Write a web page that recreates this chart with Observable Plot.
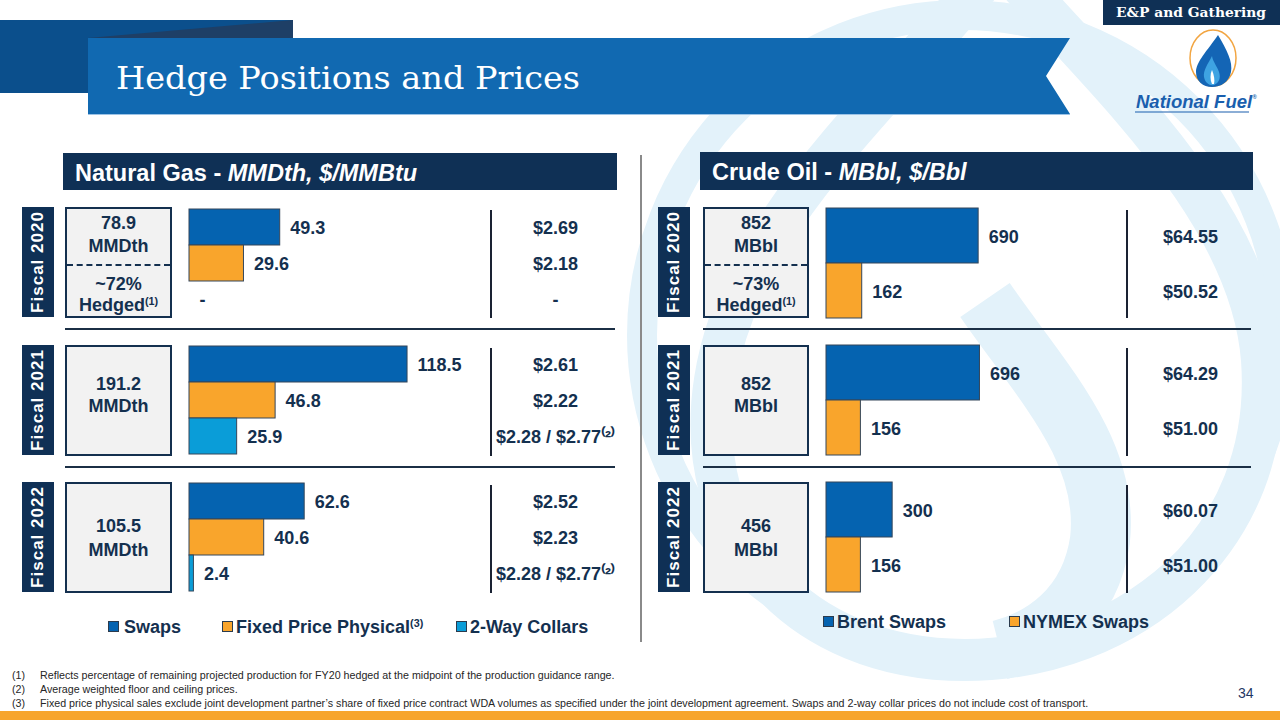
<!DOCTYPE html>
<html><head><meta charset="utf-8">
<script src="https://cdn.jsdelivr.net/npm/d3@7"></script>
<script src="https://cdn.jsdelivr.net/npm/@observablehq/plot@0.6"></script>
<style>
html,body{margin:0;padding:0;background:#fff;}
#slide{position:relative;width:1280px;height:720px;overflow:hidden;font-family:"Liberation Sans",Arial,sans-serif;color:#14304f;}
#slide div{position:absolute;}
.hdr{background:#0f3055;color:#fff;font-weight:bold;font-size:23.5px;box-sizing:border-box;padding-left:12px;white-space:nowrap;}
.yr{background:#0f3055;}
.yr span{position:absolute;left:50%;top:50%;transform:translate(-50%,-50%) rotate(-90deg);color:#fff;font-weight:bold;font-size:17px;letter-spacing:1px;white-space:nowrap;}
.box{background:#f2f2f2;border:2px solid #14304f;box-sizing:border-box;}
.bt{left:0;width:100%;text-align:center;font-weight:bold;font-size:18px;line-height:20px;color:#14304f;white-space:nowrap;}
sup{font-size:60%;vertical-align:0;position:relative;top:-0.6em;}
.vline{width:2px;background:#1a2233;}
.hline{height:2px;background:#1b2f45;}
.leg{font-weight:bold;font-size:18px;color:#14304f;white-space:nowrap;line-height:20px;}
.sw{width:11px;height:11px;border:1px solid #2b3b4d;box-sizing:border-box;}
.fn{font-size:10.7px;color:#262626;white-space:nowrap;line-height:12px;}
</style></head>
<body><div id="slide"></div>
<script>
// ---------------- DATA ----------------
const gasYears = ["Fiscal 2020", "Fiscal 2021", "Fiscal 2022"];
const gasCategories = ["Swaps", "Fixed Price Physical", "2-Way Collars"];
const gasSwaps = [49.3, 118.5, 62.6];
const gasFixed = [29.6, 46.8, 40.6];
const gasCollars = [null, 25.9, 2.4];
const gasSwapPrices = ["$2.69", "$2.61", "$2.52"];
const gasFixedPrices = ["$2.18", "$2.22", "$2.23"];
const gasCollarPrices = ["-", "$2.28 / $2.77\u207D\u00B2\u207E", "$2.28 / $2.77\u207D\u00B2\u207E"];
const gasTotals = ["78.9", "191.2", "105.5"];
const gasHedged = "~72%";
const gasColors = ["#0563b0", "#f9a52c", "#0a9dd8"];

const oilYears = ["Fiscal 2020", "Fiscal 2021", "Fiscal 2022"];
const oilCategories = ["Brent Swaps", "NYMEX Swaps"];
const oilBrent = [690, 696, 300];
const oilNymex = [162, 156, 156];
const oilBrentPrices = ["$64.55", "$64.29", "$60.07"];
const oilNymexPrices = ["$50.52", "$51.00", "$51.00"];
const oilTotals = ["852", "852", "456"];
const oilHedged = "~73%";
const oilColors = ["#0563b0", "#f9a52c"];

const footnotes = [
  "Reflects percentage of remaining projected production for FY20 hedged at the midpoint of the production guidance range.",
  "Average weighted floor and ceiling prices.",
  "Fixed price physical sales exclude joint development partner\u2019s share of fixed price contract WDA volumes as specified under the joint development agreement. Swaps and 2-way collar prices do not include cost of transport."
];

// ---------------- LAYOUT ----------------
const slide = document.getElementById("slide");
function div(cls, css, html) {
  const e = document.createElement("div");
  if (cls) e.className = cls;
  e.style.cssText = css;
  if (html != null) e.innerHTML = html;
  slide.appendChild(e);
  return e;
}

const NS = "http://www.w3.org/2000/svg";
const bg = document.createElementNS(NS, "svg");
bg.setAttribute("width", 1280); bg.setAttribute("height", 720);
bg.style.cssText = "position:absolute;left:0;top:0;";
bg.innerHTML = `
  <g fill="none" stroke="#e3f2fa">
    <circle cx="962" cy="335" r="320" stroke-width="30"/>
    <path d="M1000 -40 C1080 60 1250 200 1262 360 C1275 540 1130 660 965 660 C800 660 690 540 715 380 C740 220 880 110 1000 -40 Z" stroke-width="42"/>
    <path d="M985 300 C1040 380 1110 450 1100 540 C1090 610 1040 640 1000 650" stroke-width="60"/>
  </g>
  <polygon points="0,20 293,20 293,93 0,93" fill="#0b4f8c"/>
  <polygon points="88,38 293,20 293,38" fill="#1e3f66"/>
  <polygon points="88,38 1070,38 1046,76 1070,114 88,114" fill="#1169b1"/>
  <line x1="88" y1="114.5" x2="1070" y2="114.5" stroke="#9cc3e6" stroke-width="1"/>
  <text x="116" y="89" fill="#fff" font-family="DejaVu Serif" font-size="32" textLength="464" lengthAdjust="spacingAndGlyphs">Hedge Positions and Prices</text>
  <rect x="1103" y="0" width="177" height="25" fill="#0f3055"/>
  <text x="1191" y="17" fill="#fff" font-family="DejaVu Serif" font-weight="bold" font-size="13" text-anchor="middle" textLength="150" lengthAdjust="spacingAndGlyphs">E&amp;P and Gathering</text>
  <ellipse cx="1213" cy="58" rx="23" ry="28" fill="#fff" stroke="#f2a541" stroke-width="1.5"/>
  <path d="M1218 35 C1227 50 1233 62 1231 72 C1229 82 1221 87 1212 87 C1203 87 1196 81 1196 72 C1196 62 1207 51 1218 35 Z" fill="#1465b5"/>
  <path d="M1212 56 C1208 64 1203 70 1204 77 C1205 83 1210 86 1214 85 C1219 83 1221 78 1219 72 C1217 66 1213 62 1212 56 Z" fill="#3ea3e2"/>
  <path d="M1212 70 C1210 74 1210 80 1212 84 L1214 84 C1215 80 1214 75 1212 70 Z" fill="#fff"/>
  <text x="1136" y="108" fill="#1a5fae" font-family="Liberation Sans" font-style="italic" font-weight="bold" font-size="18.5">National Fuel<tspan font-size="6" dy="-9">®</tspan></text>
  <line x1="1135" y1="112" x2="1249" y2="112" stroke="#1a5fae" stroke-width="1.2"/>
  <line x1="641" y1="155" x2="641" y2="642" stroke="#8a8a8a" stroke-width="2"/>
  <rect x="0" y="711" width="1280" height="9" fill="#f7a52d"/>
`;
slide.appendChild(bg);

div("hdr", "left:63px;top:153px;width:554px;height:37px;line-height:40px;", "Natural Gas - <i>MMDth, $/MMBtu</i>");
div("hdr", "left:700px;top:152px;width:553px;height:38px;line-height:41px;", "Crude Oil - <i>MBbl, $/Bbl</i>");

const facetTop = 207, facetStep = 137.5, facetBand = 110;
function sidePanel(years, totals, unit, hedged, yrLeft, boxLeft, boxWidth, divX, lineL, lineR) {
  years.forEach((yr, i) => {
    const top = facetTop + i * facetStep;
    div("yr", `left:${yrLeft}px;top:${top}px;width:32px;height:${facetBand}px;`, `<span>${yr}</span>`);
    const b = div("box", `left:${boxLeft}px;top:${top}px;width:${boxWidth}px;height:${facetBand + 1}px;`);
    const add = (y, html) => { const t = document.createElement("div"); t.className = "bt"; t.style.top = (y - 10) + "px"; t.innerHTML = html; b.appendChild(t); };
    if (i === 0) {
      add(14, totals[i]); add(37, unit);
      const d = document.createElement("div");
      d.style.cssText = `left:0;top:55px;width:100%;border-top:2px dashed #14304f;`;
      b.appendChild(d);
      add(75, hedged); add(96, "Hedged<sup>(1)</sup>");
    } else if (i === 1) {
      add(37, totals[i]); add(59, unit);
    } else {
      add(42, totals[i]); add(66, unit);
    }
    div("vline", `left:${divX}px;top:${top + 3}px;height:${facetBand - 2}px;`);
    if (i < 2) div("hline", `left:${lineL}px;top:${top + facetBand + 11}px;width:${lineR - lineL}px;`);
  });
}
sidePanel(gasYears, gasTotals, "MMDth", gasHedged, 22, 65, 107, 490, 65, 615);
sidePanel(oilYears, oilTotals, "MBbl", oilHedged, 658, 703, 106, 1126, 703, 1251);

// ---------------- CHARTS ----------------
function panelChart({years, categories, colors, series, prices, pxPerUnit, left, width, priceDx, fmt}) {
  const rows = [];
  years.forEach((yr, i) => categories.forEach((c, j) =>
    rows.push({year: yr, category: c, value: series[j][i], price: prices[j][i]})));
  const height = facetStep * 2 + facetBand;
  const chart = Plot.plot({
    width, height,
    marginTop: 0, marginBottom: 0, marginLeft: 0, marginRight: 0,
    x: {domain: [0, width / pxPerUnit], axis: null},
    y: {domain: categories, padding: 0, axis: null},
    fy: {domain: years, paddingInner: 1 - facetBand / facetStep, paddingOuter: 0, axis: null, label: null},
    color: {domain: categories, range: colors},
    style: {fontFamily: "Liberation Sans, Arial, sans-serif", fontSize: "18px", overflow: "visible", background: "transparent"},
    marks: [
      Plot.barX(rows.filter(d => d.value != null), {x: "value", y: "category", fy: "year", fill: "category", stroke: "#34465a", strokeWidth: 1}),
      Plot.text(rows, {x: d => d.value ?? 0, y: "category", fy: "year",
        text: d => d.value == null ? "-" : fmt(d.value),
        textAnchor: "start", dx: 10, dy: 1, fontWeight: "bold", fontSize: 18, fill: "#14304f"}),
      Plot.text(rows, {frameAnchor: "right", y: "category", fy: "year", text: "price",
        textAnchor: "middle", dx: priceDx, dy: 1, fontWeight: "bold", fontSize: 18, fill: "#14304f"})
    ]
  });
  chart.style.position = "absolute";
  chart.style.left = left + "px";
  chart.style.top = facetTop + "px";
  slide.appendChild(chart);
}

panelChart({years: gasYears, categories: gasCategories, colors: gasColors,
  series: [gasSwaps, gasFixed, gasCollars],
  prices: [gasSwapPrices, gasFixedPrices, gasCollarPrices],
  pxPerUnit: 1.84, left: 189, width: 438, priceDx: -72, fmt: d3.format(".1f")});

panelChart({years: oilYears, categories: oilCategories, colors: oilColors,
  series: [oilBrent, oilNymex],
  prices: [oilBrentPrices, oilNymexPrices],
  pxPerUnit: 0.2205, left: 826, width: 427, priceDx: -63, fmt: d3.format("d")});

// ---------------- LEGENDS ----------------
const gasLegendLabels = ["Swaps", "Fixed Price Physical<sup>(3)</sup>", "2-Way Collars"];
const gasLegendX = [108, 222, 456];
gasLegendLabels.forEach((l, i) => {
  div("sw", `left:${gasLegendX[i]}px;top:621px;background:${gasColors[i]};`);
  div("leg", `left:${gasLegendX[i] + (i === 0 ? 16 : 14)}px;top:617px;`, l);
});
const oilLegendX = [823, 1009];
oilCategories.forEach((l, i) => {
  div("sw", `left:${oilLegendX[i]}px;top:616px;background:${oilColors[i]};`);
  div("leg", `left:${oilLegendX[i] + 14}px;top:612px;`, l);
});

// ---------------- FOOTNOTES ----------------
footnotes.forEach((t, i) => {
  div("fn", `left:12px;top:${669 + i * 14}px;`, `(${i + 1})`);
  div("fn", `left:40px;top:${669 + i * 14}px;`, t);
});
div("", "left:1238px;top:685px;font-size:14px;color:#1f3864;", "34");
</script>
</body></html>
